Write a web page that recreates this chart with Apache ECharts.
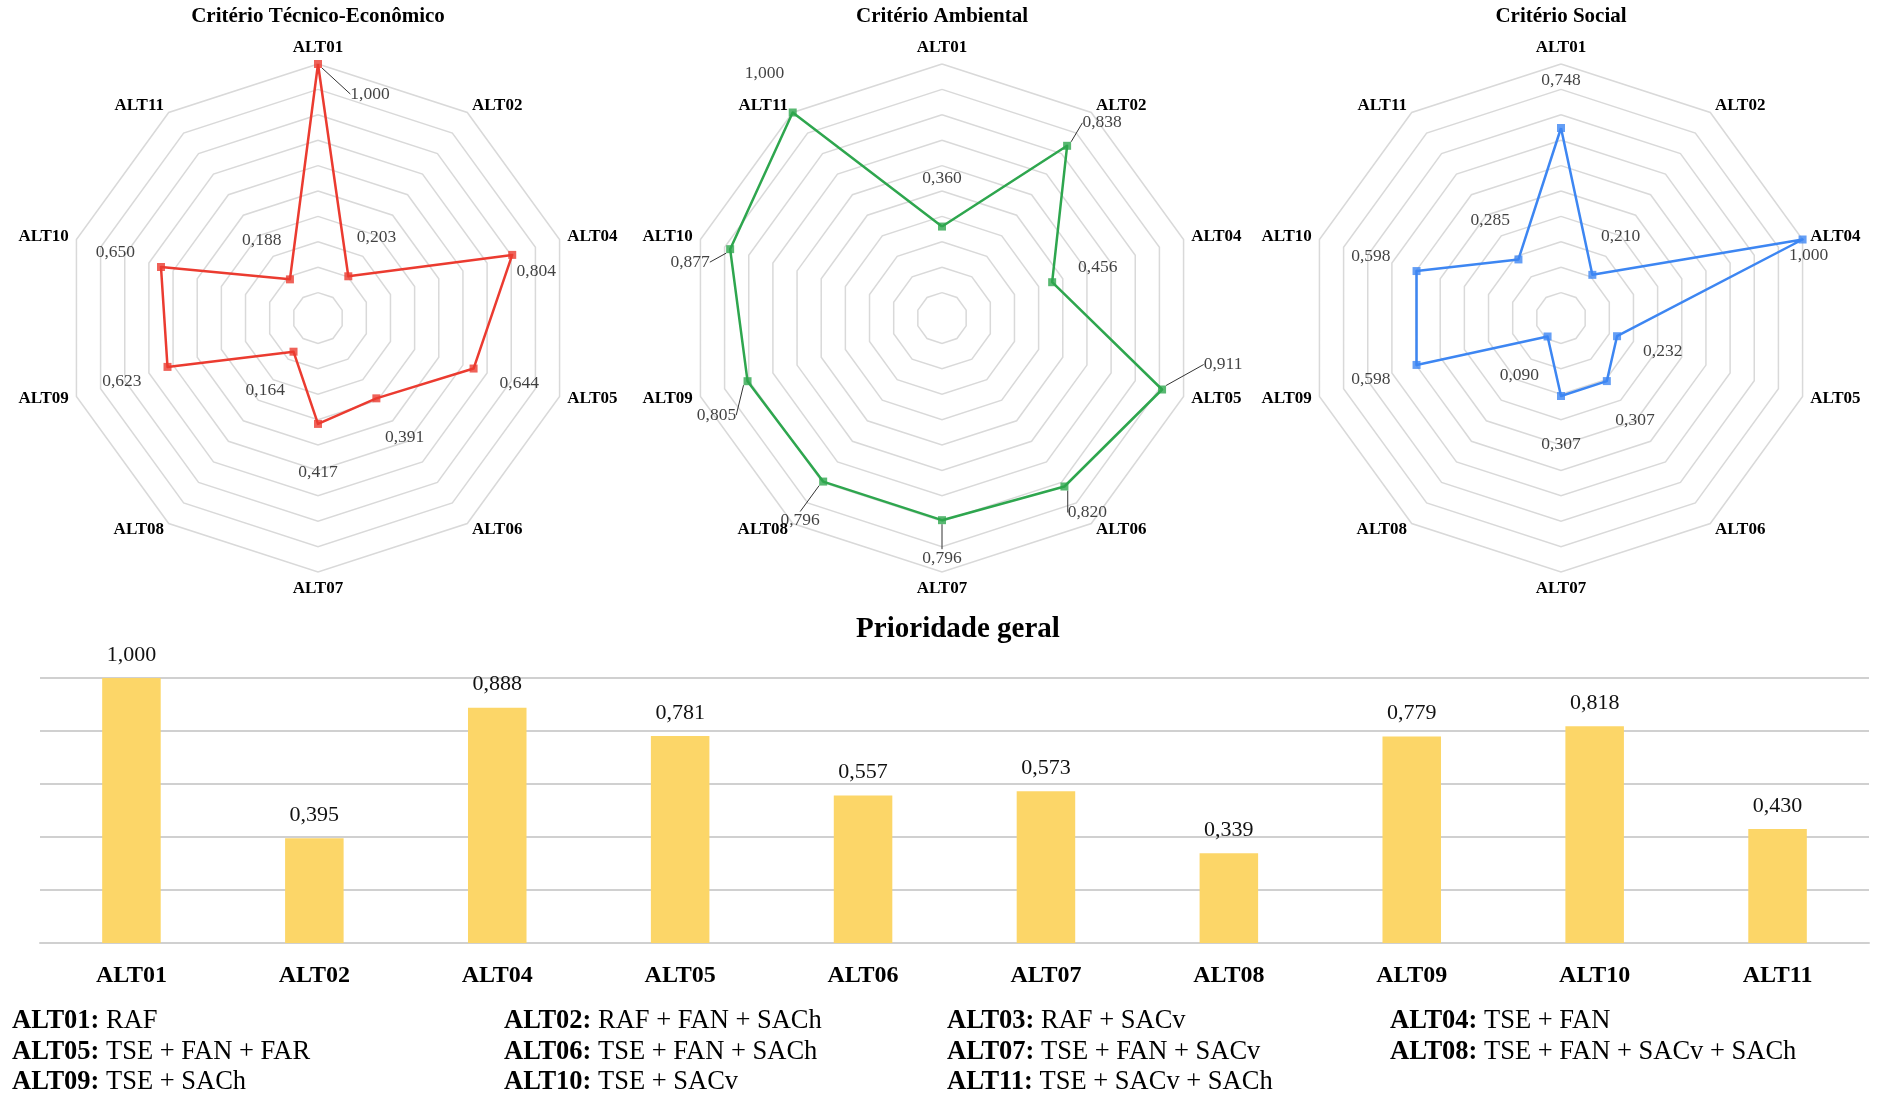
<!DOCTYPE html>
<html><head><meta charset="utf-8">
<script src="https://cdn.jsdelivr.net/npm/echarts@6/dist/echarts.min.js"></script>
<style>html,body{margin:0;padding:0;background:#fff}#c{width:1881px;height:1095px}</style>
</head><body><div id="c"></div>
<script>
// ---------- data ----------
const alternatives = ['ALT01','ALT02','ALT04','ALT05','ALT06','ALT07','ALT08','ALT09','ALT10','ALT11'];
const tecnicoEconomico = [1.000, 0.203, 0.804, 0.644, 0.391, 0.417, 0.164, 0.623, 0.650, 0.188];
const ambiental        = [0.360, 0.838, 0.456, 0.911, 0.820, 0.796, 0.796, 0.805, 0.877, 1.000];
const social           = [0.748, 0.210, 1.000, 0.232, 0.307, 0.307, 0.090, 0.598, 0.598, 0.285];
const prioridadeGeral  = [1.000, 0.395, 0.888, 0.781, 0.557, 0.573, 0.339, 0.779, 0.818, 0.430];
const radarTitles = ['Critério Técnico-Econômico', 'Critério Ambiental', 'Critério Social'];
const barTitle = 'Prioridade geral';
const legendRows = [
  [['ALT01', 'RAF'], ['ALT02', 'RAF + FAN + SACh'], ['ALT03', 'RAF + SACv'], ['ALT04', 'TSE + FAN']],
  [['ALT05', 'TSE + FAN + FAR'], ['ALT06', 'TSE + FAN + SACh'], ['ALT07', 'TSE + FAN + SACv'], ['ALT08', 'TSE + FAN + SACv + SACh']],
  [['ALT09', 'TSE + SACh'], ['ALT10', 'TSE + SACv'], ['ALT11', 'TSE + SACv + SACh']]
];

// ---------- style / layout ----------
const FONT = '"Liberation Serif","Times New Roman",serif';
const radarSets = [tecnicoEconomico, ambiental, social];
const radarColors = ['#EB3B30', '#2EA64E', '#3D86F2'];
const centersX = [318, 942, 1561];
const CY = 318, R = 254;
const LABEL_DIST = 48;
// label displacements (px) that differ from the default outward placement
const labelOverrides = [
  { ALT01: [52, 30], ALT04: [24, 17] },
  { ALT02: [35, -23], ALT05: [61, -25], ALT06: [23, 26], ALT07: [0, 38], ALT08: [-23, 39], ALT09: [-31, 34], ALT10: [-40, 13] },
  { ALT04: [6, 16] }
];
const leaderLines = [['ALT01'], ['ALT02', 'ALT05', 'ALT06', 'ALT07', 'ALT08', 'ALT09', 'ALT10'], []];
// radar indicators run counter-clockwise; reorder so the reference reads clockwise
const order = [0, 9, 8, 7, 6, 5, 4, 3, 2, 1];
const fmt = v => v.toFixed(3).replace('.', ',');

const option = {
  animation: false,
  backgroundColor: '#fff',
  radar: centersX.map(cx => ({
    center: [cx, CY], radius: R, startAngle: 90, shape: 'polygon', splitNumber: 10,
    indicator: order.map(i => ({ name: alternatives[i], min: 0, max: 1 })),
    axisName: { color: '#000', fontFamily: FONT, fontWeight: 'bold', fontSize: 17 },
    nameGap: 8,
    axisLine: { show: false }, axisTick: { show: false }, axisLabel: { show: false },
    splitLine: { lineStyle: { color: '#d9d9d9', width: 1.5 } },
    splitArea: { show: false }
  })),
  polar: centersX.map(cx => ({ center: [cx, CY], radius: R })),
  angleAxis: centersX.map((cx, k) => ({
    polarIndex: k, type: 'category', data: order.map(i => alternatives[i]),
    boundaryGap: false, startAngle: 90, clockwise: false, show: false
  })),
  radiusAxis: centersX.map((cx, k) => ({ polarIndex: k, min: 0, max: 1, show: false })),
  grid: { left: 40, right: 12, top: 678, bottom: 152 },
  xAxis: {
    type: 'category', data: alternatives,
    axisLine: { lineStyle: { color: '#d0d0d0', width: 2 } },
    axisTick: { show: false },
    axisLabel: { fontFamily: FONT, fontWeight: 'bold', fontSize: 24, color: '#000', margin: 21 }
  },
  yAxis: {
    type: 'value', min: 0, max: 1, interval: 0.2,
    axisLabel: { show: false }, axisLine: { show: false }, axisTick: { show: false },
    splitLine: { lineStyle: { color: '#d0d0d0', width: 2 } }
  },
  series: [],
  graphic: []
};

radarSets.forEach((vals, k) => {
  option.series.push({
    type: 'radar', radarIndex: k, symbol: 'none', z: 2,
    lineStyle: { color: radarColors[k], width: 2.5 },
    data: [{ value: order.map(i => vals[i]) }]
  });
  option.series.push({
    type: 'scatter', coordinateSystem: 'polar', polarIndex: k, z: 3,
    symbol: 'rect', symbolSize: 8,
    itemStyle: { color: radarColors[k] },
    data: order.map(i => ({
      value: [vals[i], alternatives[i]],
      labelLine: { show: leaderLines[k].indexOf(alternatives[i]) >= 0 }
    })),
    label: {
      show: true, position: 'inside', formatter: p => fmt(p.value[0]),
      color: '#111', fontFamily: FONT, fontSize: 17.5
    },
    labelLine: { show: false, lineStyle: { color: '#333', width: 1 } },
    labelLayout: function (p) {
      const name = alternatives[order[p.dataIndex]];
      const ov = labelOverrides[k][name];
      if (ov) return { dx: ov[0], dy: ov[1] };
      const a = (90 + 36 * p.dataIndex) * Math.PI / 180;
      return { dx: LABEL_DIST * Math.cos(a), dy: -LABEL_DIST * Math.sin(a) };
    }
  });
  option.graphic.push({
    type: 'text', x: centersX[k], y: 17,
    style: { text: radarTitles[k], textAlign: 'center', textVerticalAlign: 'middle',
      font: 'bold 21px ' + FONT, fill: '#000' }
  });
});

option.series.push({
  type: 'bar', barWidth: '32%',
  itemStyle: { color: '#FCD668' },
  label: { show: true, position: 'top', distance: 12, formatter: p => fmt(p.value),
    color: '#111', fontFamily: FONT, fontSize: 22 },
  data: prioridadeGeral
});

option.graphic.push({
  type: 'text', x: 958, y: 630,
  style: { text: barTitle, textAlign: 'center', textVerticalAlign: 'middle',
    font: 'bold 29px ' + FONT, fill: '#000' }
});

const colX = [12, 504, 947, 1390];
const rowY = [1021, 1052, 1082];
legendRows.forEach((row, r) => {
  row.forEach((cell, c) => {
    option.graphic.push({
      type: 'text', x: colX[c], y: rowY[r],
      style: {
        text: '{b|' + cell[0] + ':} ' + cell[1],
        rich: { b: { fontWeight: 'bold', fontFamily: FONT, fontSize: 26.5, fill: '#000' } },
        fontFamily: FONT, fontSize: 26.5, fill: '#000',
        textAlign: 'left', textVerticalAlign: 'middle'
      }
    });
  });
});

const chart = echarts.init(document.getElementById('c'), null, { renderer: 'canvas' });
chart.setOption(option);
</script>
</body></html>
